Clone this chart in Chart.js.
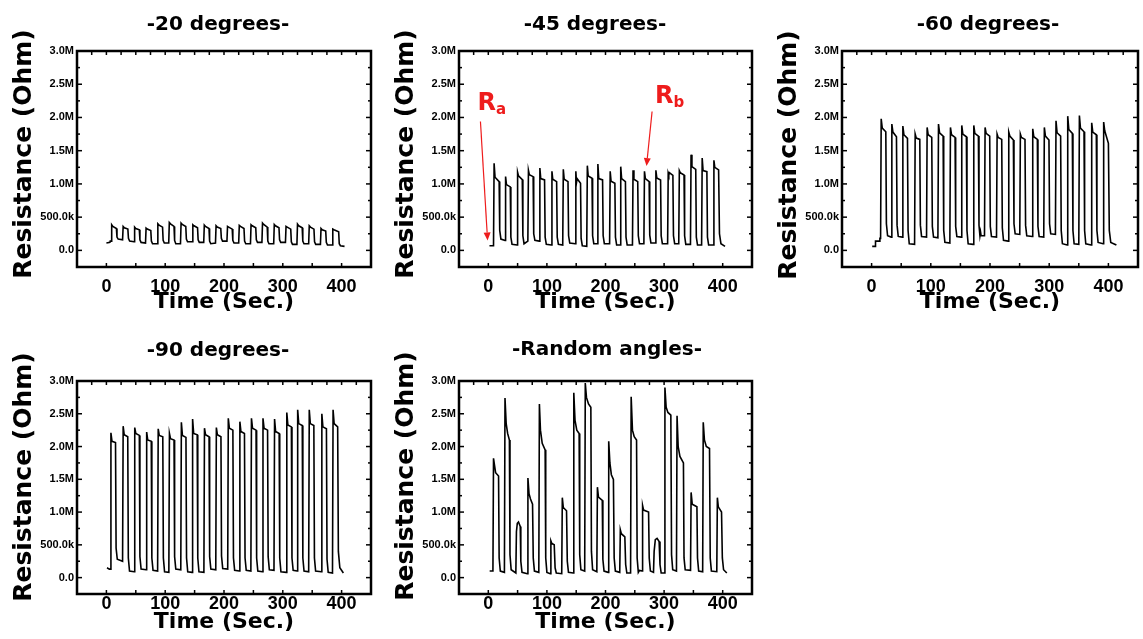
<!DOCTYPE html>
<html>
<head>
<meta charset="utf-8">
<script src="https://cdn.jsdelivr.net/npm/chart.js@4.4.1/dist/chart.umd.min.js"></script>
<style>
html,body{margin:0;padding:0;background:#fff;width:1143px;height:639px;overflow:hidden}
canvas{position:absolute}
</style>
</head>
<body>
<canvas id="c1" width="385" height="320" style="left:0;top:0"></canvas>
<canvas id="c2" width="380" height="320" style="left:385px;top:0"></canvas>
<canvas id="c3" width="378" height="320" style="left:765px;top:0"></canvas>
<canvas id="c4" width="385" height="319" style="left:0;top:320px"></canvas>
<canvas id="c5" width="380" height="319" style="left:385px;top:320px"></canvas>
<script>
// tick labels
const xTicks=[0,100,200,300,400];
const yTicks=[0,0.5,1,1.5,2,2.5,3];

// resistance in MOhm vs time in s
const time20=[0,6,6.5,
8,9,11,17,18,20,
27.5,28.5,30.5,36.5,37.5,39.5,
47,48,50,56,57,59,
66.5,67.5,69.5,75.5,76.5,78.5,
86.5,87.5,89.5,95.5,96.5,98.5,
106,107,109,115,116,118,
126,127,129,135,136,138,
146,147,149,155,156,158,
165.5,166.5,168.5,174.5,175.5,177.5,
185.5,186.5,188.5,194.5,195.5,197.5,
205,206,208,214,215,217,
225,226,228,234,235,237,
245,246,248,254,255,257,
264.5,265.5,267.5,273.5,274.5,276.5,
284.5,285.5,287.5,293.5,294.5,296.5,
304.5,305.5,307.5,313.5,314.5,316.5,
324,325,327,333,334,336,
344,345,347,353,354,356,
364,365,367,373,374,376,
384,385,387,395,396,398,405];
const res20=[0.11,0.12,0.14,
0.14,0.385,0.36,0.33,0.2,0.17,
0.16,0.36,0.34,0.32,0.18,0.14,
0.13,0.35,0.33,0.31,0.16,0.12,
0.11,0.335,0.32,0.3,0.14,0.1,
0.1,0.4,0.38,0.35,0.15,0.11,
0.11,0.42,0.4,0.36,0.15,0.1,
0.1,0.41,0.39,0.36,0.17,0.13,
0.13,0.385,0.37,0.34,0.16,0.12,
0.12,0.38,0.36,0.33,0.14,0.1,
0.11,0.37,0.35,0.33,0.18,0.14,
0.14,0.36,0.35,0.32,0.15,0.11,
0.11,0.375,0.36,0.33,0.14,0.1,
0.1,0.385,0.37,0.34,0.16,0.12,
0.12,0.41,0.39,0.35,0.14,0.1,
0.1,0.39,0.37,0.34,0.16,0.12,
0.12,0.36,0.35,0.32,0.13,0.09,
0.09,0.395,0.37,0.34,0.14,0.1,
0.1,0.37,0.35,0.32,0.13,0.09,
0.09,0.33,0.31,0.29,0.12,0.08,
0.08,0.32,0.31,0.28,0.1,0.07,0.06];

const time45=[2,
8.9,9.9,11.5,18.5,19.5,21.5,
28.5,29.5,31,37.5,38.5,40.5,
49,50,51.5,58,59,61,
67.5,68.5,70,76.5,77.5,79.5,
87,88,89.5,96,97,99,
107.6,108.6,110,116.6,117.6,119.6,
127,128,129.5,136,137,139,
148.4,149.4,150.5,151.5,157.4,158.4,160.4,
168,169,170.5,177,178,180,
186,187,188.5,195,196,198,
207,208,209.5,216,217,219,
225,226,227.5,234,235,237,
246,247,248.5,255,256,258,
265.5,266.5,268,274.5,275.5,277.5,
285,286,287.5,294,295,297,
306,307,308,309,315,316,318,
325,326,327.5,334,335,337,
345,346,347.5,354,355,357,
364,365,366.5,373,374,376,
384,385,386.5,393,394.5,397,404];
const res45=[0.07,
0.07,1.31,1.1,1.035,0.3,0.17,
0.15,1.11,0.99,0.955,0.2,0.09,
0.08,1.175,1.12,1.065,0.22,0.1,
0.14,1.205,1.14,1.11,0.25,0.15,
0.14,1.24,1.08,1.06,0.2,0.09,
0.08,1.19,1.07,1.035,0.2,0.09,
0.08,1.22,1.07,1.035,0.22,0.11,
0.1,1.19,1.02,1.08,1.01,0.18,0.07,
0.06,1.275,1.12,1.085,0.22,0.1,
0.1,1.3,1.08,1.06,0.22,0.1,
0.1,1.19,1.04,1.01,0.2,0.08,
0.08,1.26,1.08,1.035,0.2,0.08,
0.08,1.205,1.07,1.035,0.22,0.1,
0.1,1.19,1.08,1.035,0.23,0.11,
0.11,1.205,1.09,1.06,0.22,0.1,
0.1,1.16,1.13,1.17,1.13,0.22,0.1,
0.1,1.2,1.17,1.135,0.22,0.09,
0.09,1.44,1.26,1.22,0.2,0.08,
0.08,1.39,1.2,1.185,0.2,0.08,
0.08,1.355,1.25,1.21,0.25,0.1,0.06];

const time60=[1,6,6.6,13,14,
15.2,16.2,18,24,25,27,
33.2,34.2,36,42,43,45,
51.8,52.8,54.6,60.6,61.6,63.6,
72.6,73.6,75.4,81.4,82.4,84.4,
92.8,93.8,95.6,101.6,102.6,104.6,
112,113,114.8,120.8,121.8,123.8,
132.2,133.2,135,141,142,144,
151.3,152.3,154.1,160.1,161.1,163.1,
171.6,172.6,174.4,180.4,181.4,183,184,185,
190.7,191.7,193.5,199.5,200.5,202.5,
211,212,213.8,219.8,220.8,222.8,
230.7,231.7,233.5,239.5,240.5,242.5,
250.3,251.3,253.1,259.1,260.1,262.1,
271.2,272.2,274,280,281,283,
290.8,291.8,293.6,299.6,300.6,302.6,
310.5,311.5,313.3,319.3,320.3,322.3,
330.3,331.3,333.1,339.1,340.1,342.1,
350,351,352.8,358.8,359.8,361.8,
370.8,371.8,373.6,379.6,380.6,382.6,
391,392,393.8,400,401.5,404,413.5];
const res60=[0.06,0.06,0.14,0.14,0.18,
0.18,1.98,1.84,1.785,0.4,0.22,
0.2,1.9,1.78,1.71,0.38,0.21,
0.2,1.87,1.74,1.685,0.3,0.1,
0.09,1.75,1.69,1.67,0.38,0.21,
0.2,1.85,1.74,1.7,0.36,0.2,
0.19,1.9,1.77,1.72,0.3,0.12,
0.11,1.85,1.74,1.7,0.36,0.21,
0.2,1.88,1.75,1.71,0.3,0.1,
0.09,1.88,1.76,1.72,0.38,0.22,0.28,0.22,
0.22,1.85,1.76,1.72,0.36,0.21,
0.2,1.75,1.7,1.67,0.34,0.15,
0.14,1.78,1.72,1.66,0.4,0.25,
0.24,1.75,1.7,1.67,0.38,0.22,
0.21,1.83,1.71,1.67,0.36,0.21,
0.2,1.85,1.72,1.66,0.4,0.25,
0.24,1.95,1.77,1.72,0.3,0.1,
0.08,2.02,1.82,1.76,0.3,0.1,
0.09,2.03,1.84,1.785,0.3,0.1,
0.08,1.92,1.78,1.74,0.3,0.12,
0.1,1.93,1.8,1.61,0.3,0.12,0.08];

const time90=[1,5,
6.7,7.7,9.5,15.5,16.5,18.5,
27.5,28.5,30.3,36.3,37.3,39.3,
47.2,48.2,50,56,57,59,
67.5,68.5,70.3,76.3,77.3,79.3,
87.1,88.1,89.9,95.9,96.9,98.9,
106.2,107.2,109,115,116,118,
126.5,127.5,129.3,135.3,136.3,138.3,
145.6,146.6,148.4,154.4,155.4,157.4,
165.8,166.8,168.6,174.6,175.6,177.6,
186,187,188.8,194.8,195.8,197.8,
206.3,207.3,209.1,215.1,216.1,218.1,
226,227,228.8,234.8,235.8,237.8,
245.7,246.7,248.5,254.5,255.5,257.5,
265.3,266.3,268.1,274.1,275.1,277.1,
285,286,287.8,293.8,294.8,296.8,
305.8,306.8,308.6,314.6,315.6,317.6,
324.3,325.3,327.1,333.1,334.1,336.1,
344,345,346.8,352.8,353.8,355.8,
365.4,366.4,368.2,374.2,375.2,377.2,
384.5,385.5,387.3,393.3,394.5,397,403];
const res90=[0.15,0.13,
0.13,2.21,2.08,2.06,0.45,0.28,
0.25,2.31,2.18,2.15,0.3,0.1,
0.09,2.29,2.2,2.17,0.32,0.13,
0.12,2.22,2.1,2.08,0.3,0.11,
0.1,2.27,2.17,2.15,0.3,0.09,
0.08,2.2,2.12,2.1,0.32,0.13,
0.12,2.37,2.17,2.14,0.3,0.09,
0.08,2.42,2.2,2.18,0.3,0.09,
0.08,2.28,2.18,2.15,0.32,0.13,
0.12,2.29,2.18,2.15,0.33,0.14,
0.13,2.43,2.28,2.25,0.3,0.11,
0.1,2.38,2.23,2.2,0.3,0.11,
0.1,2.43,2.28,2.25,0.3,0.1,
0.09,2.43,2.28,2.25,0.32,0.12,
0.11,2.42,2.23,2.2,0.3,0.09,
0.08,2.52,2.33,2.3,0.3,0.11,
0.1,2.56,2.35,2.32,0.3,0.1,
0.09,2.56,2.35,2.32,0.3,0.1,
0.09,2.5,2.3,2.27,0.28,0.08,
0.07,2.56,2.35,2.3,0.4,0.15,0.07];

const timeRnd=[2.3,
7.9,8.9,10.5,12.5,17.5,18.5,20.5,
27.5,28.5,30.5,33,36,37,39,
47,48,49.5,51.5,54.5,55.5,57.5,
66.6,67.6,69.5,72,75.5,76.7,78.7,
86.2,87.2,89,92,97,98,100,
105.8,106.8,108.5,112.5,114,116,
125.3,126.3,128,133.5,134.8,136.8,
144.9,145.9,148,151,155,156,158,
164.5,165.5,167.5,171,175,176,178,
185.2,186.2,188,194.5,195.5,197.5,
204.5,205.5,207.5,210,213.5,214.8,216.8,
224.3,225.3,227,233,234.4,236.4,
242.8,243.8,246,249,253,254,256,258,
262.3,263.3,265,273.5,274.6,276.6,
281.9,283,285,288,291.5,293,295,
300.4,301.4,303.5,306.5,311.5,312.7,314.7,
321.1,322.1,324,327,333,334,336,
345.1,346.1,348,352,356,357,359,
365.8,366.8,368.8,372,377.5,378.7,380.7,
389.9,390.9,392.5,398,399.4,401.5,407];
const resRnd=[0.1,
0.1,1.82,1.72,1.6,1.55,0.3,0.1,
0.08,2.74,2.35,2.2,2.1,0.35,0.12,
0.07,0.7,0.83,0.85,0.78,0.25,0.08,
0.06,1.52,1.28,1.2,1.12,0.3,0.1,
0.08,2.65,2.25,2.05,1.95,0.3,0.08,
0.06,0.56,0.52,0.5,0.15,0.07,
0.06,1.22,1.07,1.02,0.25,0.08,
0.07,2.82,2.4,2.25,2.2,0.35,0.12,
0.1,2.97,2.75,2.65,2.6,0.4,0.12,
0.09,1.38,1.23,1.18,0.28,0.1,
0.08,2.08,1.75,1.57,1.5,0.3,0.1,
0.08,0.73,0.67,0.62,0.2,0.07,
0.07,2.76,2.25,2.15,2.1,0.3,0.08,0.11,
0.1,1.1,1.03,1.0,0.3,0.1,
0.08,0.4,0.58,0.6,0.55,0.2,0.07,
0.07,2.9,2.6,2.52,2.48,0.35,0.12,
0.1,2.47,2.0,1.85,1.75,0.3,0.12,
0.11,1.3,1.12,1.1,1.08,0.3,0.1,
0.09,2.37,2.1,2.0,1.97,0.3,0.1,
0.09,1.22,1.08,1.0,0.3,0.12,0.07];

// Ra / Rb call-outs on the -45 panel (data coords)
const notes45=[
  {text:'R',sub:'a',t:-18.5,r:2.11,from:[-13.4,1.94],to:[-1.2,0.15]},
  {text:'R',sub:'b',t:284.5,r:2.22,from:[279.5,2.09],to:[270,1.27]}
];

// layout of each panel (page px)
const panels=[
  {id:'c1',title:'-20 degrees-',t:time20,r:res20,left:0,top:0,w:385,h:320,area:[77,371,51,267],titleX:218,titleY:29.5,yTitleX:24,yTitleY:154,tickPad:11.5,xTitlePad:7},
  {id:'c2',title:'-45 degrees-',t:time45,r:res45,left:385,top:0,w:380,h:320,area:[459,752,51,267],titleX:595,titleY:29.5,yTitleX:406,yTitleY:154,tickPad:11.5,xTitlePad:7,notes:notes45},
  {id:'c3',title:'-60 degrees-',t:time60,r:res60,left:765,top:0,w:378,h:320,area:[842,1138,51,267],titleX:988,titleY:29.5,yTitleX:789,yTitleY:155,tickPad:11.5,xTitlePad:7},
  {id:'c4',title:'-90 degrees-',t:time90,r:res90,left:0,top:320,w:385,h:319,area:[77,371,381,594],titleX:218,titleY:356,yTitleX:24,yTitleY:477,tickPad:1,xTitlePad:6},
  {id:'c5',title:'-Random angles-',t:timeRnd,r:resRnd,left:385,top:320,w:380,h:319,area:[459,752,381,594],titleX:607,titleY:355,yTitleX:406,yTitleY:476,tickPad:1,xTitlePad:6}
];

function fmtR(v){
  if(v===0) return '0.0';
  if(v<1) return (v*1000).toFixed(1)+'k';
  return v.toFixed(1)+'M';
}

function decor(p){
  return {
    id:'decor',
    afterDraw(chart){
      const ctx=chart.ctx, a=chart.chartArea, x=chart.scales.x, y=chart.scales.y;
      ctx.save();
      ctx.strokeStyle='#000';
      ctx.lineWidth=1.5;
      const seg=(x1,y1,x2,y2)=>{ctx.beginPath();ctx.moveTo(x1,y1);ctx.lineTo(x2,y2);ctx.stroke();};
      for(let v=-25;v<=425;v+=25){const px=x.getPixelForValue(v);seg(px,a.top,px,a.top+4);}
      for(let v=0;v<=400;v+=50){const px=x.getPixelForValue(v);seg(px,a.bottom,px,a.bottom-4);}
      for(let k=0;k<=11;k++){
        const v=k*0.25, py=y.getPixelForValue(v), L=(k%2===0)?5:3;
        seg(a.left,py,a.left+L,py);
        seg(a.right,py,a.right-L,py);
      }
      ctx.lineWidth=2.5;
      ctx.strokeRect(a.left,a.top,a.right-a.left,a.bottom-a.top);

      ctx.fillStyle='#000';
      ctx.textAlign='center';
      ctx.textBaseline='alphabetic';
      ctx.font='bold 20px "DejaVu Sans"';
      ctx.fillText(p.title,p.titleX-p.left,p.titleY-p.top);

      ctx.save();
      ctx.translate(p.yTitleX-p.left,p.yTitleY-p.top);
      ctx.rotate(-Math.PI/2);
      ctx.textBaseline='middle';
      ctx.font='bold 25px "DejaVu Sans"';
      ctx.fillText('Resistance (Ohm)',0,0);
      ctx.restore();

      (p.notes||[]).forEach(n=>{
        const red='#ee1c1c';
        ctx.strokeStyle=red;ctx.fillStyle=red;ctx.lineWidth=1.2;
        const x1=x.getPixelForValue(n.from[0]),y1=y.getPixelForValue(n.from[1]);
        const x2=x.getPixelForValue(n.to[0]),y2=y.getPixelForValue(n.to[1]);
        const ang=Math.atan2(y2-y1,x2-x1), hl=8, hw=3.5;
        const bx=x2-hl*Math.cos(ang), by=y2-hl*Math.sin(ang);
        seg(x1,y1,bx,by);
        ctx.beginPath();
        ctx.moveTo(x2,y2);
        ctx.lineTo(bx+hw*Math.sin(ang),by-hw*Math.cos(ang));
        ctx.lineTo(bx-hw*Math.sin(ang),by+hw*Math.cos(ang));
        ctx.closePath();ctx.fill();
        const tx=x.getPixelForValue(n.t), ty=y.getPixelForValue(n.r);
        ctx.textAlign='left';ctx.textBaseline='alphabetic';
        ctx.font='bold 24px "DejaVu Sans"';
        ctx.fillText(n.text,tx,ty);
        const w=ctx.measureText(n.text).width;
        ctx.font='bold 15px "DejaVu Sans"';
        ctx.fillText(n.sub,tx+w,ty+4);
      });
      ctx.restore();
    }
  };
}

panels.forEach(p=>{
  const relL=p.area[0]-p.left, relR=p.area[1]-p.left, relT=p.area[2]-p.top, relB=p.area[3]-p.top;
  new Chart(document.getElementById(p.id),{
    type:'line',
    data:{datasets:[{
      data:p.t.map((v,i)=>({x:v,y:p.r[i]})),
      borderColor:'#000',borderWidth:1.6,pointRadius:0,tension:0,fill:false
    }]},
    options:{
      responsive:false,animation:false,devicePixelRatio:1,
      layout:{padding:{left:0,right:p.w-relR,top:relT,bottom:0}},
      plugins:{legend:{display:false},tooltip:{enabled:false},title:{display:false}},
      scales:{
        x:{
          type:'linear',min:-50,max:450,
          afterBuildTicks:s=>{s.ticks=xTicks.map(v=>({value:v}));},
          afterFit:s=>{s.height=p.h-relB;},
          grid:{display:false,drawTicks:false},border:{display:false},
          ticks:{autoSkip:false,maxRotation:0,color:'#000',padding:p.tickPad,
            font:{family:'Liberation Sans',weight:'bold',size:18,lineHeight:1}},
          title:{display:true,text:'Time (Sec.)',color:'#000',
            font:{family:'DejaVu Sans',weight:'bold',size:22,lineHeight:1},
            padding:{top:0,bottom:p.xTitlePad}}
        },
        y:{
          min:-0.25,max:3,
          afterBuildTicks:s=>{s.ticks=yTicks.map(v=>({value:v}));},
          afterFit:s=>{s.width=relL;},
          grid:{display:false,drawTicks:false},border:{display:false},
          ticks:{color:'#000',padding:3,callback:v=>fmtR(v),
            font:{family:'Liberation Sans',weight:'bold',size:11,lineHeight:1}},
          title:{display:false}
        }
      }
    },
    plugins:[decor(p)]
  });
});
</script>
</body>
</html>
